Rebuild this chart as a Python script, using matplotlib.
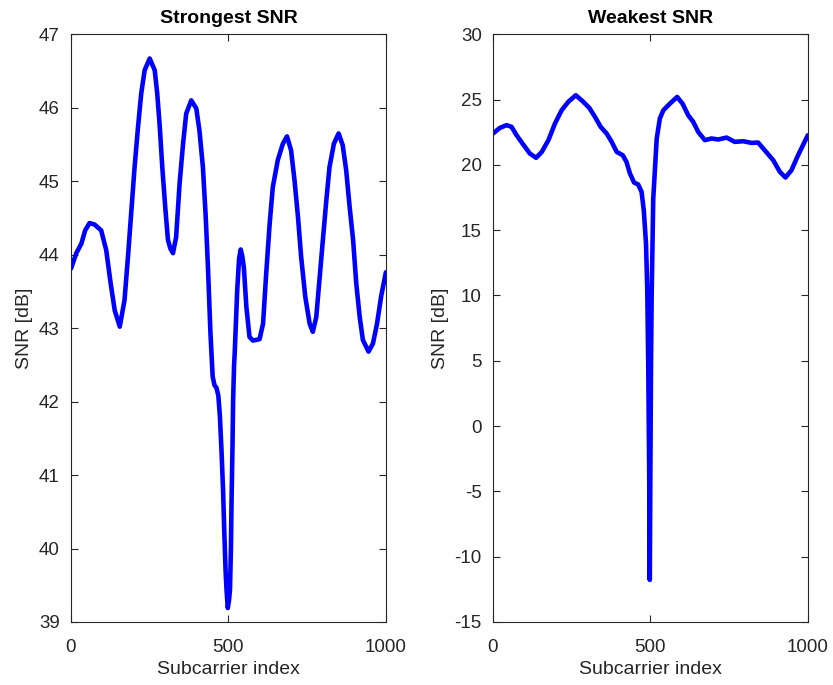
import matplotlib.pyplot as plt

plt.rcParams['font.family'] = ['Liberation Sans', 'DejaVu Sans']
plt.rcParams['axes.unicode_minus'] = False

# strongest user: subcarrier index / SNR in dB
idx_strong = [0, 17, 33, 45, 59, 75, 96, 112, 126, 139, 155, 170, 181, 192, 202, 213,
              223, 234, 250, 266, 274, 282, 290, 300, 308, 316, 324, 334, 345, 356, 366,
              382, 398, 408, 419, 428, 435, 443, 450, 456, 462, 468, 473, 478, 483, 487,
              491, 494, 498, 502, 505, 508, 510, 513, 515, 518, 520, 528, 534, 539, 544,
              549, 557, 567, 578, 599, 610, 620, 631, 641, 657, 673, 686, 699, 710, 721,
              731, 744, 758, 768, 779, 789, 800, 811, 821, 835, 850, 863, 874, 885, 896,
              906, 917, 927, 945, 959, 972, 985, 1000]
snr_strong = [43.81, 44.02, 44.15, 44.33, 44.43, 44.41, 44.33, 44.06, 43.61, 43.24,
              43.02, 43.38, 43.97, 44.61, 45.19, 45.74, 46.19, 46.51, 46.67, 46.51,
              46.19, 45.74, 45.19, 44.61, 44.20, 44.08, 44.02, 44.24, 44.97, 45.51,
              45.92, 46.10, 45.99, 45.69, 45.19, 44.51, 43.83, 42.93, 42.34, 42.22,
              42.19, 42.08, 41.80, 41.34, 40.80, 40.21, 39.70, 39.44, 39.19, 39.30,
              39.44, 40.00, 40.66, 41.40, 42.02, 42.50, 42.66, 43.52, 43.95, 44.07,
              43.98, 43.83, 43.29, 42.88, 42.83, 42.85, 43.06, 43.74, 44.42, 44.92,
              45.29, 45.51, 45.61, 45.42, 45.01, 44.51, 43.97, 43.43, 43.06, 42.95,
              43.15, 43.65, 44.20, 44.74, 45.19, 45.51, 45.65, 45.49, 45.15, 44.65,
              44.20, 43.61, 43.15, 42.84, 42.68, 42.79, 43.06, 43.43, 43.76]

# weakest user
idx_weak = [0, 22, 43, 59, 75, 96, 117, 137, 155, 176, 197, 218, 239, 263, 285, 306,
            324, 342, 361, 377, 393, 412, 424, 435, 448, 461, 472, 479, 486, 490, 493,
            496, 498, 500, 502, 504, 507, 509, 520, 530, 541, 562, 585, 602, 620, 636,
            652, 673, 694, 715, 742, 768, 795, 821, 842, 863, 890, 911, 929, 948, 969,
            1000]
snr_weak = [22.40, 22.83, 23.04, 22.91, 22.27, 21.56, 20.87, 20.54, 20.99, 21.89, 23.17,
            24.18, 24.82, 25.33, 24.87, 24.36, 23.67, 22.91, 22.40, 21.76, 20.99, 20.74,
            20.23, 19.34, 18.65, 18.50, 17.93, 16.50, 14.00, 10.50, 5.00, -3.00, -11.78,
            -3.00, 5.00, 10.00, 14.50, 17.40, 22.00, 23.55, 24.18, 24.69, 25.20, 24.69,
            23.80, 23.29, 22.52, 21.89, 22.02, 21.94, 22.09, 21.76, 21.81, 21.68, 21.71,
            21.12, 20.36, 19.47, 19.03, 19.59, 20.74, 22.27]

fig = plt.figure(figsize=(8.33, 6.85), dpi=100)
ax1 = fig.add_axes([0.0852, 0.092, 0.378, 0.858])
ax2 = fig.add_axes([0.5918, 0.092, 0.378, 0.858])

panels = [
    (ax1, idx_strong, snr_strong, 'Strongest SNR', (39, 47), range(39, 48)),
    (ax2, idx_weak, snr_weak, 'Weakest SNR', (-15, 30), range(-15, 31, 5)),
]
for ax, x, y, title, ylim, yticks in panels:
    ax.plot(x, y, color='blue', linewidth=3.3, solid_joinstyle='round',
            solid_capstyle='round')
    ax.set_xlim(0, 1000)
    ax.set_ylim(*ylim)
    ax.set_xticks([0, 500, 1000])
    ax.set_yticks(list(yticks))
    ax.set_title(title, fontsize=14, fontweight='bold', pad=8)
    ax.set_xlabel('Subcarrier index', fontsize=14, color='#262626', labelpad=4)
    ax.set_ylabel('SNR [dB]', fontsize=14, color='#262626', labelpad=4)
    ax.tick_params(direction='in', length=5, width=0.8, top=True, right=True,
                   labelsize=13.5, colors='#262626')
    ax.tick_params(axis='x', pad=12)
    ax.tick_params(axis='y', pad=8)
    for s in ax.spines.values():
        s.set_color('#262626')
        s.set_linewidth(0.8)

fig.savefig('out.png', dpi=100)
